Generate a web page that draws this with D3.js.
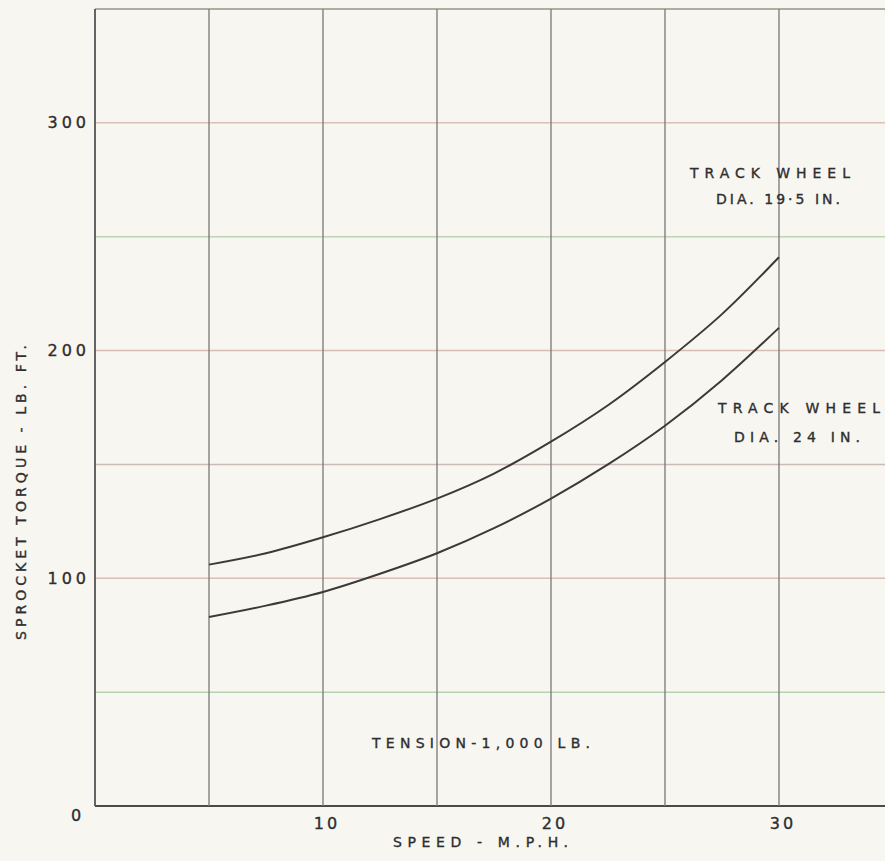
<!DOCTYPE html>
<html>
<head>
<meta charset="utf-8">
<script src="https://cdn.jsdelivr.net/npm/d3@7"></script>
<style>
  html, body { margin: 0; padding: 0; background: #f7f6f1; }
  svg { display: block; }
  text { font-family: "DejaVu Sans", sans-serif; fill: #2e2e2e; stroke: #2e2e2e; stroke-width: 0.35; }
</style>
</head>
<body>
<svg id="chart"></svg>
<script>
(function () {

    // Data
    const speeds = [5, 7.5, 10, 12.5, 15, 17.5, 20, 22.5, 25, 27.5, 30];
    const torqueWheel195 = [106, 111, 118, 126, 135, 146, 160, 176, 195, 216, 241];
    const torqueWheel24 = [83, 88, 94, 102, 111, 122, 135, 150, 167, 187, 210];

    const xGrid = [0, 5, 10, 15, 20, 25, 30];
    const yGrid = [0, 50, 100, 150, 200, 250, 300, 350];
    const xTickLabels = [10, 20, 30];
    const yTickLabels = [100, 200, 300];

    // Size & scales
    const width = 885,
        height = 861;

    const x = d3.scaleLinear().domain([0, 34.65]).range([95, 885]);
    const y = d3.scaleLinear().domain([0, 350]).range([806, 9]);

    // faintly tinted ruling of the old graph paper
    const hLineColor = {
        0: "#4a4a4a", 50: "#b6d2b0", 100: "#dcbdb4", 150: "#c9bcb4",
        200: "#d6bcb3", 250: "#bcd5b5", 300: "#dcc0b6", 350: "#8e9a84"
    };

    const svg = d3.select("#chart")
        .attr("width", width)
        .attr("height", height);

    svg.append("rect")
        .attr("width", width)
        .attr("height", height)
        .attr("fill", "#f7f6f1");

    // Horizontal grid
    svg.append("g")
        .selectAll("line")
        .data(yGrid)
        .enter().append("line")
        .attr("x1", x(0))
        .attr("x2", width)
        .attr("y1", (d) => y(d))
        .attr("y2", (d) => y(d))
        .attr("stroke", (d) => hLineColor[d])
        .attr("stroke-width", (d) => d === 0 ? 2 : 1.5);

    // Vertical grid
    svg.append("g")
        .selectAll("line")
        .data(xGrid)
        .enter().append("line")
        .attr("x1", (d) => x(d))
        .attr("x2", (d) => x(d))
        .attr("y1", y(350))
        .attr("y2", y(0))
        .attr("stroke", (d) => d === 0 ? "#555" : "#777")
        .attr("stroke-width", (d) => d === 0 ? 1.8 : 1.3);

    // Curves
    const line = d3.line()
        .x((d) => x(d[0]))
        .y((d) => y(d[1]))
        .curve(d3.curveMonotoneX);

    [torqueWheel195, torqueWheel24].forEach((series) => {
        svg.append("path")
            .datum(speeds.map((s, i) => [s, series[i]]))
            .attr("d", line)
            .attr("fill", "none")
            .attr("stroke", "#3a3a3a")
            .attr("stroke-width", 2);
    });

    // Tick labels
    svg.append("g")
        .selectAll("text")
        .data(yTickLabels)
        .enter().append("text")
        .attr("x", x(0) - 5)
        .attr("y", (d) => y(d))
        .attr("dy", "0.35em")
        .attr("text-anchor", "end")
        .attr("font-size", 16)
        .attr("letter-spacing", 4)
        .text((d) => d);

    svg.append("text")
        .attr("x", 76)
        .attr("y", y(0) + 9)
        .attr("dy", "0.35em")
        .attr("text-anchor", "middle")
        .attr("font-size", 16)
        .text("0");

    svg.append("g")
        .selectAll("text")
        .data(xTickLabels)
        .enter().append("text")
        .attr("x", (d) => x(d) + 4)
        .attr("y", y(0) + 17)
        .attr("dy", "0.35em")
        .attr("text-anchor", "middle")
        .attr("font-size", 16)
        .attr("letter-spacing", 3)
        .text((d) => d);

    // Axis titles
    svg.append("text")
        .attr("x", 393)
        .attr("y", 847)
        .attr("font-size", 14)
        .attr("textLength", 175)
        .attr("lengthAdjust", "spacing")
        .text("SPEED -  M.P.H.");

    svg.append("text")
        .attr("transform", "translate(26,640) rotate(-90)")
        .attr("font-size", 14)
        .attr("textLength", 295)
        .attr("lengthAdjust", "spacing")
        .text("SPROCKET  TORQUE  -  LB. FT.");

    // Annotations
    const notes = [
        { text: "TRACK WHEEL", x: 690, y: 178, len: 160 },
        { text: "DIA. 19·5 IN.", x: 716, y: 204, len: 124 },
        { text: "TRACK WHEEL", x: 718, y: 413, len: 162 },
        { text: "DIA. 24 IN.", x: 734, y: 442, len: 126 },
        { text: "TENSION-1,000  LB.", x: 372, y: 748, len: 218 }
    ];

    svg.append("g")
        .selectAll("text")
        .data(notes)
        .enter().append("text")
        .attr("x", (d) => d.x)
        .attr("y", (d) => d.y)
        .attr("font-size", 14)
        .attr("textLength", (d) => d.len)
        .attr("lengthAdjust", "spacing")
        .text((d) => d.text);
})();
</script>
</body>
</html>
